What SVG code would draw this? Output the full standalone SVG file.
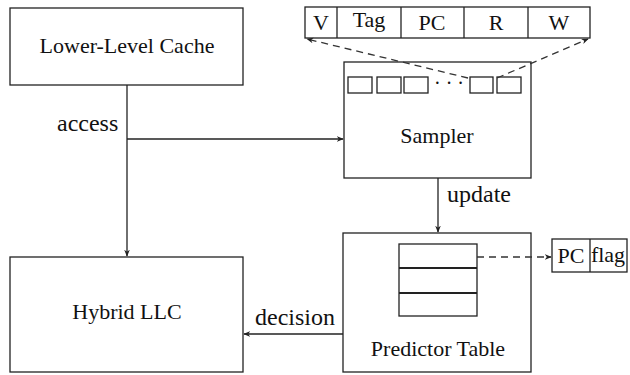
<svg xmlns="http://www.w3.org/2000/svg" width="630" height="375" viewBox="0 0 630 375">
<defs>
<style>
.box{fill:#fff;stroke:#222;stroke-width:1.3}
.ln{fill:none;stroke:#222;stroke-width:1.3}
.dash{fill:none;stroke:#333;stroke-width:1.3;stroke-dasharray:7,5}
text{font-family:"Liberation Serif","Times New Roman",serif;font-size:22px;fill:#111}
.lbl{font-size:24px}
.c{text-anchor:middle}
</style>
<marker id="ah" viewBox="0 0 10 10" refX="9" refY="5" markerWidth="7" markerHeight="7" markerUnits="userSpaceOnUse" orient="auto">
<path d="M0,1 L10,5 L0,9 L3,5 Z" fill="#222"/>
</marker>
</defs>
<rect width="630" height="375" fill="#fff"/>

<g id="lower-level-cache">
<rect class="box" x="10" y="8" width="233" height="77"/>
<text class="c" x="127" y="53">Lower-Level Cache</text>
</g>

<g id="hybrid-llc">
<rect class="box" x="10" y="257" width="233" height="115"/>
<text class="c" x="127" y="319">Hybrid LLC</text>
</g>

<g id="sampler">
<rect class="box" x="344" y="62" width="187" height="116"/>
<rect class="box" x="348" y="77" width="24" height="16"/>
<rect class="box" x="377" y="77" width="24" height="16"/>
<rect class="box" x="404" y="77" width="24" height="16"/>
<text class="c" x="449" y="90" style="font-size:20px">· · ·</text>
<rect class="box" x="470" y="77" width="23" height="16"/>
<rect class="box" x="497" y="77" width="24" height="16"/>
<text class="c" x="437" y="143">Sampler</text>
</g>

<g id="entry-fields">
<rect class="box" x="305" y="7" width="285" height="31"/>
<line class="ln" x1="337" y1="7" x2="337" y2="38"/>
<line class="ln" x1="401" y1="7" x2="401" y2="38"/>
<line class="ln" x1="464" y1="7" x2="464" y2="38"/>
<line class="ln" x1="528" y1="7" x2="528" y2="38"/>
<text class="c" x="321" y="30">V</text>
<text class="c" x="369" y="27">Tag</text>
<text class="c" x="432" y="30">PC</text>
<text class="c" x="496" y="30">R</text>
<text class="c" x="559" y="30">W</text>
</g>

<g id="predictor-table">
<rect class="box" x="343" y="233" width="188" height="139"/>
<rect class="box" x="399" y="244" width="78" height="72"/>
<line class="ln" x1="399" y1="268" x2="477" y2="268" style="stroke-width:2"/>
<line class="ln" x1="399" y1="293" x2="477" y2="293" style="stroke-width:2"/>
<text class="c" x="438" y="356">Predictor Table</text>
</g>

<g id="pc-flag">
<rect class="box" x="552" y="239" width="75" height="33"/>
<line class="ln" x1="590" y1="239" x2="590" y2="272"/>
<text class="c" x="571" y="263">PC</text>
<text class="c" x="608" y="262">flag</text>
</g>

<g id="connectors">
<line class="ln" x1="127" y1="85" x2="127" y2="256" marker-end="url(#ah)"/>
<line class="ln" x1="127" y1="139" x2="343" y2="139" marker-end="url(#ah)"/>
<line class="ln" x1="438" y1="178" x2="438" y2="232" marker-end="url(#ah)"/>
<line class="ln" x1="343" y1="334" x2="244" y2="334" marker-end="url(#ah)"/>
<line class="dash" x1="477" y1="257" x2="551" y2="257" marker-end="url(#ah)"/>
<line class="dash" x1="468" y1="78" x2="307" y2="39" marker-end="url(#ah)"/>
<line class="dash" x1="497" y1="78" x2="588" y2="39" marker-end="url(#ah)"/>
<text class="lbl" x="57" y="131">access</text>
<text class="lbl" x="447" y="202">update</text>
<text class="lbl" x="255" y="325">decision</text>
</g>
</svg>
